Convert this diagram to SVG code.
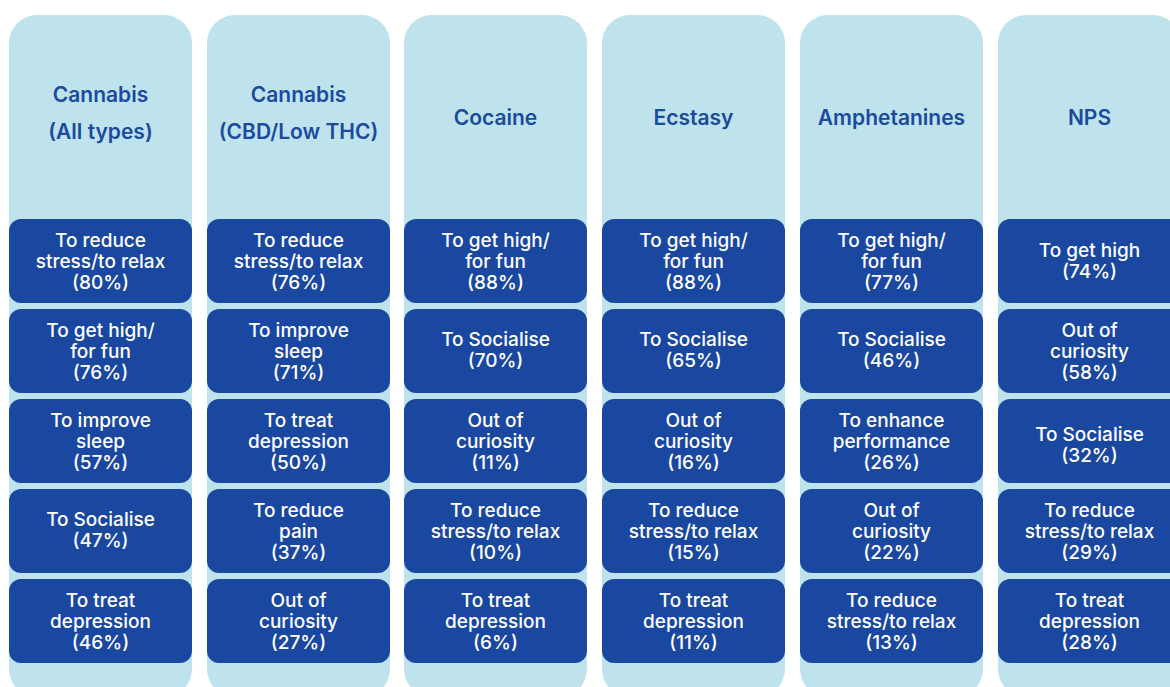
<svg xmlns="http://www.w3.org/2000/svg" width="1170" height="687" viewBox="0 0 1170 687">
<style>
.col{fill:#bee3ec}
.box{fill:#1a47a0}
.hd{font-family:Inter,Lato,"Liberation Sans",sans-serif;font-size:21px;font-weight:600;fill:#1b4a9f;text-anchor:middle}
.bt{font-family:Inter,Lato,"Liberation Sans",sans-serif;font-size:19px;font-weight:500;fill:#ffffff;text-anchor:middle}
</style>
<rect width="1170" height="687" fill="#ffffff"/>
<g id="col1">
<rect class="col" x="9" y="15" width="183" height="682" rx="28"/>
<text class="hd" x="100.5" y="102">Cannabis</text>
<text class="hd" x="100.5" y="139">(All types)</text>
</g>
<g id="col2">
<rect class="col" x="207" y="15" width="183" height="682" rx="28"/>
<text class="hd" x="298.5" y="102">Cannabis</text>
<text class="hd" x="298.5" y="139">(CBD/Low THC)</text>
</g>
<g id="col3">
<rect class="col" x="404" y="15" width="183" height="682" rx="28"/>
<text class="hd" x="495.5" y="125">Cocaine</text>
</g>
<g id="col4">
<rect class="col" x="602" y="15" width="183" height="682" rx="28"/>
<text class="hd" x="693.5" y="125">Ecstasy</text>
</g>
<g id="col5">
<rect class="col" x="800" y="15" width="183" height="682" rx="28"/>
<text class="hd" x="891.5" y="125">Amphetanines</text>
</g>
<g id="col6">
<rect class="col" x="998" y="15" width="183" height="682" rx="28"/>
<text class="hd" x="1089.5" y="125">NPS</text>
</g>

<g id="c1r1"><rect class="box" x="9" y="219" width="183" height="84" rx="12"/><text class="bt" x="100.5" y="247">To reduce</text><text class="bt" x="100.5" y="268">stress/to relax</text><text class="bt" x="100.5" y="289">(80%)</text></g>
<g id="c1r2"><rect class="box" x="9" y="309" width="183" height="84" rx="12"/><text class="bt" x="100.5" y="337">To get high/</text><text class="bt" x="100.5" y="358">for fun</text><text class="bt" x="100.5" y="379">(76%)</text></g>
<g id="c1r3"><rect class="box" x="9" y="399" width="183" height="84" rx="12"/><text class="bt" x="100.5" y="427">To improve</text><text class="bt" x="100.5" y="448">sleep</text><text class="bt" x="100.5" y="469">(57%)</text></g>
<g id="c1r4"><rect class="box" x="9" y="489" width="183" height="84" rx="12"/><text class="bt" x="100.5" y="526">To Socialise</text><text class="bt" x="100.5" y="547">(47%)</text></g>
<g id="c1r5"><rect class="box" x="9" y="579" width="183" height="84" rx="12"/><text class="bt" x="100.5" y="607">To treat</text><text class="bt" x="100.5" y="628">depression</text><text class="bt" x="100.5" y="649">(46%)</text></g>

<g id="c2r1"><rect class="box" x="207" y="219" width="183" height="84" rx="12"/><text class="bt" x="298.5" y="247">To reduce</text><text class="bt" x="298.5" y="268">stress/to relax</text><text class="bt" x="298.5" y="289">(76%)</text></g>
<g id="c2r2"><rect class="box" x="207" y="309" width="183" height="84" rx="12"/><text class="bt" x="298.5" y="337">To improve</text><text class="bt" x="298.5" y="358">sleep</text><text class="bt" x="298.5" y="379">(71%)</text></g>
<g id="c2r3"><rect class="box" x="207" y="399" width="183" height="84" rx="12"/><text class="bt" x="298.5" y="427">To treat</text><text class="bt" x="298.5" y="448">depression</text><text class="bt" x="298.5" y="469">(50%)</text></g>
<g id="c2r4"><rect class="box" x="207" y="489" width="183" height="84" rx="12"/><text class="bt" x="298.5" y="517">To reduce</text><text class="bt" x="298.5" y="538">pain</text><text class="bt" x="298.5" y="559">(37%)</text></g>
<g id="c2r5"><rect class="box" x="207" y="579" width="183" height="84" rx="12"/><text class="bt" x="298.5" y="607">Out of</text><text class="bt" x="298.5" y="628">curiosity</text><text class="bt" x="298.5" y="649">(27%)</text></g>

<g id="c3r1"><rect class="box" x="404" y="219" width="183" height="84" rx="12"/><text class="bt" x="495.5" y="247">To get high/</text><text class="bt" x="495.5" y="268">for fun</text><text class="bt" x="495.5" y="289">(88%)</text></g>
<g id="c3r2"><rect class="box" x="404" y="309" width="183" height="84" rx="12"/><text class="bt" x="495.5" y="346">To Socialise</text><text class="bt" x="495.5" y="367">(70%)</text></g>
<g id="c3r3"><rect class="box" x="404" y="399" width="183" height="84" rx="12"/><text class="bt" x="495.5" y="427">Out of</text><text class="bt" x="495.5" y="448">curiosity</text><text class="bt" x="495.5" y="469">(11%)</text></g>
<g id="c3r4"><rect class="box" x="404" y="489" width="183" height="84" rx="12"/><text class="bt" x="495.5" y="517">To reduce</text><text class="bt" x="495.5" y="538">stress/to relax</text><text class="bt" x="495.5" y="559">(10%)</text></g>
<g id="c3r5"><rect class="box" x="404" y="579" width="183" height="84" rx="12"/><text class="bt" x="495.5" y="607">To treat</text><text class="bt" x="495.5" y="628">depression</text><text class="bt" x="495.5" y="649">(6%)</text></g>

<g id="c4r1"><rect class="box" x="602" y="219" width="183" height="84" rx="12"/><text class="bt" x="693.5" y="247">To get high/</text><text class="bt" x="693.5" y="268">for fun</text><text class="bt" x="693.5" y="289">(88%)</text></g>
<g id="c4r2"><rect class="box" x="602" y="309" width="183" height="84" rx="12"/><text class="bt" x="693.5" y="346">To Socialise</text><text class="bt" x="693.5" y="367">(65%)</text></g>
<g id="c4r3"><rect class="box" x="602" y="399" width="183" height="84" rx="12"/><text class="bt" x="693.5" y="427">Out of</text><text class="bt" x="693.5" y="448">curiosity</text><text class="bt" x="693.5" y="469">(16%)</text></g>
<g id="c4r4"><rect class="box" x="602" y="489" width="183" height="84" rx="12"/><text class="bt" x="693.5" y="517">To reduce</text><text class="bt" x="693.5" y="538">stress/to relax</text><text class="bt" x="693.5" y="559">(15%)</text></g>
<g id="c4r5"><rect class="box" x="602" y="579" width="183" height="84" rx="12"/><text class="bt" x="693.5" y="607">To treat</text><text class="bt" x="693.5" y="628">depression</text><text class="bt" x="693.5" y="649">(11%)</text></g>

<g id="c5r1"><rect class="box" x="800" y="219" width="183" height="84" rx="12"/><text class="bt" x="891.5" y="247">To get high/</text><text class="bt" x="891.5" y="268">for fun</text><text class="bt" x="891.5" y="289">(77%)</text></g>
<g id="c5r2"><rect class="box" x="800" y="309" width="183" height="84" rx="12"/><text class="bt" x="891.5" y="346">To Socialise</text><text class="bt" x="891.5" y="367">(46%)</text></g>
<g id="c5r3"><rect class="box" x="800" y="399" width="183" height="84" rx="12"/><text class="bt" x="891.5" y="427">To enhance</text><text class="bt" x="891.5" y="448">performance</text><text class="bt" x="891.5" y="469">(26%)</text></g>
<g id="c5r4"><rect class="box" x="800" y="489" width="183" height="84" rx="12"/><text class="bt" x="891.5" y="517">Out of</text><text class="bt" x="891.5" y="538">curiosity</text><text class="bt" x="891.5" y="559">(22%)</text></g>
<g id="c5r5"><rect class="box" x="800" y="579" width="183" height="84" rx="12"/><text class="bt" x="891.5" y="607">To reduce</text><text class="bt" x="891.5" y="628">stress/to relax</text><text class="bt" x="891.5" y="649">(13%)</text></g>

<g id="c6r1"><rect class="box" x="998" y="219" width="183" height="84" rx="12"/><text class="bt" x="1089.5" y="257">To get high</text><text class="bt" x="1089.5" y="278">(74%)</text></g>
<g id="c6r2"><rect class="box" x="998" y="309" width="183" height="84" rx="12"/><text class="bt" x="1089.5" y="337">Out of</text><text class="bt" x="1089.5" y="358">curiosity</text><text class="bt" x="1089.5" y="379">(58%)</text></g>
<g id="c6r3"><rect class="box" x="998" y="399" width="183" height="84" rx="12"/><text class="bt" x="1089.5" y="441">To Socialise</text><text class="bt" x="1089.5" y="462">(32%)</text></g>
<g id="c6r4"><rect class="box" x="998" y="489" width="183" height="84" rx="12"/><text class="bt" x="1089.5" y="517">To reduce</text><text class="bt" x="1089.5" y="538">stress/to relax</text><text class="bt" x="1089.5" y="559">(29%)</text></g>
<g id="c6r5"><rect class="box" x="998" y="579" width="183" height="84" rx="12"/><text class="bt" x="1089.5" y="607">To treat</text><text class="bt" x="1089.5" y="628">depression</text><text class="bt" x="1089.5" y="649">(28%)</text></g>
<g id="connectors"></g>
</svg>
